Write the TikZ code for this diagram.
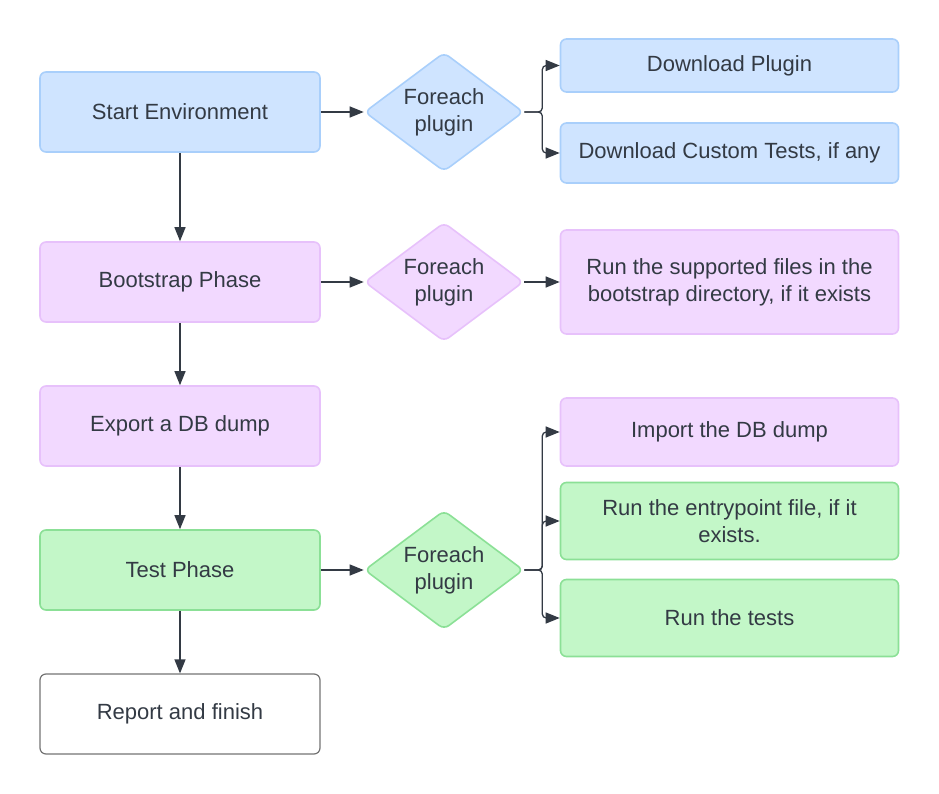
\documentclass[tikz,border=0pt]{standalone}
\usepackage{fontspec}
\setmainfont{Liberation Sans}
\usetikzlibrary{shapes.geometric,arrows.meta}

\definecolor{inkgray}{HTML}{333A44}
\definecolor{bluefill}{HTML}{CFE4FF}
\definecolor{blueline}{HTML}{A9CFFB}
\definecolor{pinkfill}{HTML}{F2D9FF}
\definecolor{pinkline}{HTML}{E7C1FB}
\definecolor{greenfill}{HTML}{C3F7C8}
\definecolor{greenline}{HTML}{8BE096}

\tikzset{
    every node/.style={text=inkgray, font=\fontsize{22}{27}\selectfont, align=center},
    stepbox/.style={draw, rounded corners=6pt, line width=1.6pt, minimum width=280pt, minimum height=80pt, inner sep=0pt},
    taskbox/.style={stepbox, minimum width=338pt},
    loopnode/.style={draw, diamond, aspect=1.345, rounded corners=6pt, line width=1.6pt, minimum width=159pt, minimum height=119pt, inner sep=0pt},
    bluenode/.style={fill=bluefill, draw=blueline},
    pinknode/.style={fill=pinkfill, draw=pinkline},
    greennode/.style={fill=greenfill, draw=greenline},
    conn/.style={draw=inkgray, line width=1.3pt, -{Triangle[length=14pt, width=11pt]}}
}

\begin{document}
\begin{tikzpicture}[x=1pt, y=-1pt]
            \useasboundingbox (0,0) rectangle (939,794);

            % left column
            \node[stepbox, bluenode] (start) at (180,112) {Start Environment};
            \node[stepbox, pinknode] (bootstrap) at (180,282) {Bootstrap Phase};
            \node[stepbox, pinknode] (export) at (180,426) {Export a DB dump};
            \node[stepbox, greennode] (test) at (180,570) {Test Phase};
            \node[stepbox, draw=gray!90!black, line width=1.2pt] (report) at (180,714) {Report and finish};

            % loops
            \node[loopnode, bluenode] (loopa) at (444,112) {Foreach\\plugin};
            \node[loopnode, pinknode] (loopb) at (444,282) {Foreach\\plugin};
            \node[loopnode, greennode] (loopc) at (444,570) {Foreach\\plugin};

            % right column
            \node[taskbox, bluenode, minimum height=53pt] (download) at (729.5,65.5) {Download Plugin};
            \node[taskbox, bluenode, minimum height=60pt] (custom) at (729.5,153) {Download Custom Tests, if any};
            \node[taskbox, pinknode, minimum height=104pt] (runboot) at (729.5,282) {Run the supported files in the\\bootstrap directory, if it exists};
            \node[taskbox, pinknode, minimum height=68pt] (import) at (729.5,432) {Import the DB dump};
            \node[taskbox, greennode, minimum height=77pt] (entry) at (729.5,521) {Run the entrypoint file, if it\\exists.};
            \node[taskbox, greennode, minimum height=77pt] (tests) at (729.5,618) {Run the tests};

            \draw[conn] (start) -- (bootstrap);
            \draw[conn] (bootstrap) -- (export);
            \draw[conn] (export) -- (test);
            \draw[conn] (test) -- (report);

            \draw[conn] (start) -- (loopa);
            \draw[conn] (bootstrap) -- (loopb);
            \draw[conn] (test) -- (loopc);
            \draw[conn] (loopb) -- (runboot);

            \draw[conn, rounded corners=4pt] (loopa.east) -- ++(18,0) |- (download.west);
            \draw[conn, rounded corners=4pt] (loopa.east) -- ++(18,0) |- (custom.west);
            \draw[conn, rounded corners=4pt] (loopc.east) -- ++(18,0) |- (import.west);
            \draw[conn, rounded corners=4pt] (loopc.east) -- ++(18,0) |- (entry.west);
            \draw[conn, rounded corners=4pt] (loopc.east) -- ++(18,0) |- (tests.west);
        \end{tikzpicture}
\end{document}
